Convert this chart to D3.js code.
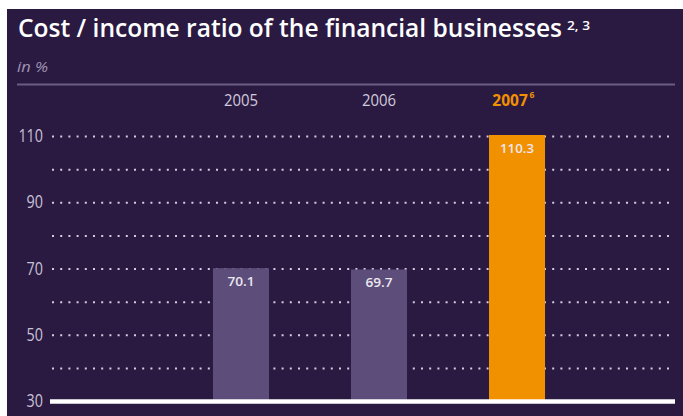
<!DOCTYPE html>
<html>
<head>
<meta charset="utf-8">
<script src="https://cdn.jsdelivr.net/npm/d3@7"></script>
<style>
  html, body { margin: 0; padding: 0; background: #ffffff; }
  svg { display: block; }
  text { font-family: "Open Sans", "Noto Sans", sans-serif; }
</style>
</head>
<body>
<svg id="chart" width="683" height="416"></svg>
<script>
// Cost/income ratio, in %
const years = ["2005", "2006", "2007"];
const values = [70.1, 69.7, 110.3];
const yearNotes = ["", "", "6"];
const highlightYear = "2007";
const tickLabels = [30, 50, 70, 90, 110];
const gridValues = [40, 50, 60, 70, 80, 90, 100, 110];
const titleText = "Cost / income ratio of the financial businesses";
const titleNote = "2, 3";
const unitText = "in %";

const bg = "#2a1a42";
const barGrey = "#5c4d7a";
const orange = "#f29100";

// narrow the glyphs of a text to a target width per character
function squeeze(sel, perChar) {
  sel.attr("textLength", function() { return this.textContent.length * perChar; })
     .attr("lengthAdjust", "spacingAndGlyphs");
}

const svg = d3.select("#chart");

// dark panel
svg.append("rect")
  .attr("x", 7).attr("y", 9)
  .attr("width", 683 - 7).attr("height", 416 - 9)
  .attr("fill", bg);

// title
svg.append("text")
  .attr("x", 18).attr("y", 37)
  .attr("fill", "#ffffff")
  .attr("font-size", 24.5)
  .attr("font-weight", 600)
  .attr("textLength", 544)
  .attr("lengthAdjust", "spacingAndGlyphs")
  .text(titleText);
svg.append("text")
  .attr("x", 567).attr("y", 30)
  .attr("fill", "#ffffff")
  .attr("font-size", 12)
  .attr("font-weight", 600)
  .attr("textLength", 23)
  .attr("lengthAdjust", "spacingAndGlyphs")
  .text(titleNote);

svg.append("text")
  .attr("x", 17).attr("y", 72)
  .attr("fill", "#a094b4")
  .attr("font-size", 15)
  .attr("font-style", "italic")
  .attr("textLength", 31)
  .attr("lengthAdjust", "spacingAndGlyphs")
  .text(unitText);

// separator
svg.append("line")
  .attr("x1", 17).attr("x2", 675)
  .attr("y1", 84.5).attr("y2", 84.5)
  .attr("stroke", "#6a5c82")
  .attr("stroke-width", 2);

// scales
const x = d3.scaleBand()
  .domain(years)
  .range([131, 627])
  .paddingInner(0.594)
  .paddingOuter(0.594);

const y = d3.scaleLinear()
  .domain([30, 110])
  .range([401, 136]);

const plotLeft = 51, plotRight = 675;

// dotted gridlines
const grid = svg.append("g")
  .attr("transform", `translate(${plotLeft},0)`)
  .call(d3.axisLeft(y).tickValues(gridValues).tickSize(-(plotRight - plotLeft)).tickFormat(""));
grid.select(".domain").remove();
grid.selectAll(".tick line")
  .attr("stroke", "#d4cce0")
  .attr("stroke-width", 2)
  .attr("stroke-dasharray", "2,6.2")
  .attr("x1", 1);

// y tick labels
const yAxis = svg.append("g")
  .attr("transform", "translate(43,0)")
  .call(d3.axisLeft(y).tickValues(tickLabels).tickSize(0).tickPadding(0));
yAxis.select(".domain").remove();
yAxis.selectAll(".tick text")
  .attr("fill", "#c9c1d6")
  .attr("font-size", 17.5)
  .attr("font-family", "\"Open Sans\", sans-serif")
  .call(squeeze, 8.2);

// bars
svg.append("g").selectAll("rect")
  .data(years)
  .join("rect")
  .attr("x", d => x(d))
  .attr("width", x.bandwidth())
  .attr("y", (d, i) => y(values[i]))
  .attr("height", (d, i) => y(30) - y(values[i]))
  .attr("fill", d => d === highlightYear ? orange : barGrey);

// value labels
svg.append("g").selectAll("text")
  .data(years)
  .join("text")
  .attr("x", d => x(d) + x.bandwidth() / 2)
  .attr("y", (d, i) => y(values[i]) + 17.5)
  .attr("text-anchor", "middle")
  .attr("fill", "#ebe7f0")
  .attr("font-size", 13)
  .attr("font-weight", 600)
  .text((d, i) => d3.format(".1f")(values[i]))
  .call(squeeze, 6.8);

// baseline
svg.append("line")
  .attr("x1", 50).attr("x2", plotRight)
  .attr("y1", y(30) + 0.5).attr("y2", y(30) + 0.5)
  .attr("stroke", "#ffffff")
  .attr("stroke-width", 4.5);

// year labels
const xAxis = svg.append("g")
  .attr("transform", "translate(0,106)")
  .call(d3.axisTop(x).tickSize(0).tickPadding(0));
xAxis.select(".domain").remove();
xAxis.selectAll(".tick text")
  .attr("font-size", 17)
  .attr("font-family", "\"Open Sans\", sans-serif")
  .attr("dy", 0)
  .attr("fill", d => d === highlightYear ? orange : "#d2cadd")
  .attr("font-weight", d => d === highlightYear ? 700 : 400)
  .attr("textLength", 34)
  .attr("lengthAdjust", "spacingAndGlyphs")
  .each(function(d) {
    const note = yearNotes[years.indexOf(d)];
    if (note) {
      // year with a footnote: the year sits left, its note raised to the right
      const cx = +d3.select(this).attr("x") || 0;
      d3.select(this)
        .attr("x", cx - 7)
        .attr("font-size", 15.5)
        .attr("textLength", null)
        .attr("lengthAdjust", null);
      d3.select(this.parentNode).append("text")
        .attr("x", cx + 12.5)
        .attr("y", -8)
        .attr("fill", orange)
        .attr("font-size", 8.5)
        .attr("font-weight", 700)
        .attr("text-anchor", "start")
        .text(note);
    }
  });
</script>
</body>
</html>
